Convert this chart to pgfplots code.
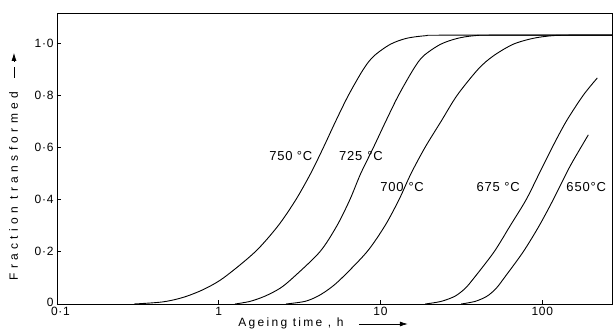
\documentclass[border=0pt]{standalone}
\usepackage{fontspec}
\setmainfont{Liberation Sans}
\newfontfamily\tickfont[LetterSpace=6]{Liberation Sans}
\newfontfamily\labfont[LetterSpace=19]{Liberation Sans}
\newfontfamily\ylabfont[LetterSpace=36]{Liberation Sans}
\newfontfamily\curvefont[LetterSpace=6]{Liberation Sans}
\usepackage{pgfplots}
\pgfplotsset{compat=1.18}
\usetikzlibrary{arrows.meta}
\begin{document}
\begin{tikzpicture}
\begin{axis}[
  scale only axis, width=555bp, height=291bp,
  at={(0,0)}, anchor=south west,
  xmode=log, xmin=0.1, xmax=270, ymin=0, ymax=1.115,
  xtick={0.1,1,10,100}, xticklabels={\hspace{7bp}0·1,1,10,100},
  xminorticks=false, yminorticks=false,
  ytick={0,0.2,0.4,0.6,0.8,1.0}, yticklabels={\raisebox{3bp}{0},0·2,0·4,0·6,0·8,1·0},
  tick align=inside, xtick pos=bottom, ytick pos=left,
  major tick length=4bp,
  tick style={black, line width=0.7bp},
  axis line style={line width=0.8bp},
  tick label style={font=\tickfont\fontsize{12bp}{14bp}\selectfont},
  clip=false,
  every axis plot/.append style={line width=0.9bp, smooth, tension=0.5, no markers},
]
% 750 C
\addplot[black] coordinates {(0.3,0) (0.45,0.008) (0.6,0.025) (0.8,0.055) (1.07,0.1) (1.68,0.2) (2.33,0.3) (3.0,0.4) (3.70,0.5) (4.44,0.6) (5.28,0.7) (6.34,0.8) (7.85,0.9) (9.1,0.95) (11.5,0.995) (14.5,1.018) (19,1.028) (25,1.03) (270,1.03)};
% 725 C
\addplot[black] coordinates {(1.26,0) (1.56,0.01) (1.93,0.03) (2.39,0.06) (2.87,0.1) (4.22,0.2) (5.38,0.3) (6.47,0.4) (7.55,0.5) (9.05,0.6) (10.78,0.7) (12.94,0.8) (16.0,0.9) (18.4,0.95) (23.5,0.995) (30,1.018) (38,1.028) (50,1.03) (270,1.03)};
% 700 C
\addplot[black] coordinates {(2.6,0) (3.41,0.01) (4.10,0.03) (4.87,0.06) (5.78,0.1) (8.25,0.2) (10.66,0.3) (13.02,0.4) (15.45,0.5) (18.86,0.6) (23.7,0.7) (29.8,0.8) (40.2,0.9) (49.7,0.95) (66,0.995) (88,1.018) (115,1.028) (150,1.03) (270,1.03)};
% 675 C
\addplot[black] coordinates {(18.9,0) (23.7,0.01) (28.9,0.03) (33.4,0.06) (37.9,0.1) (50.4,0.2) (63.4,0.3) (79.6,0.4) (95.8,0.5) (115.3,0.6) (140.8,0.7) (179.4,0.8) (219,0.866)};
% 650 C
\addplot[black] coordinates {(31.5,0) (38.5,0.01) (45.6,0.03) (51.9,0.06) (58.2,0.1) (76.3,0.2) (95.8,0.3) (117,0.4) (140.8,0.5) (155.6,0.55) (192.7,0.648)};

\begin{scope}[every node/.style={font=\curvefont\fontsize{13bp}{15bp}\selectfont, inner sep=0pt}]
\node at (axis cs:2.79,0.567) {750 °C};
\node at (axis cs:7.57,0.567) {725\hspace{5bp}°C};
\node at (axis cs:13.6,0.448) {700\hspace{5bp}°C};
\node at (axis cs:53.4,0.448) {675 °C};
\node at (axis cs:187,0.448) {650°C};
\end{scope}

\node[anchor=base, font=\labfont\fontsize{12bp}{14bp}\selectfont, inner sep=0pt] at (rel axis cs:0.4216,-0.0756) {Ageing time , h};
\draw[-{Latex[length=8bp,width=5bp]}, line width=0.7bp] (rel axis cs:0.544,-0.0687) -- (rel axis cs:0.632,-0.0687);

\node[anchor=base, rotate=90, font=\ylabfont\fontsize{12bp}{14bp}\selectfont, inner sep=0pt] at (rel axis cs:-0.0703,0.405) {Fraction transformed};
\draw[line width=0.7bp] (rel axis cs:-0.0775,0.777) -- (rel axis cs:-0.0775,0.814);
\draw[-{Latex[length=8bp,width=5bp]}, line width=0.7bp] (rel axis cs:-0.0775,0.835) -- (rel axis cs:-0.0775,0.863);
\end{axis}
\pgfresetboundingbox
\path (-57bp,-25bp) rectangle (558bp,304bp);
\end{tikzpicture}
\end{document}
